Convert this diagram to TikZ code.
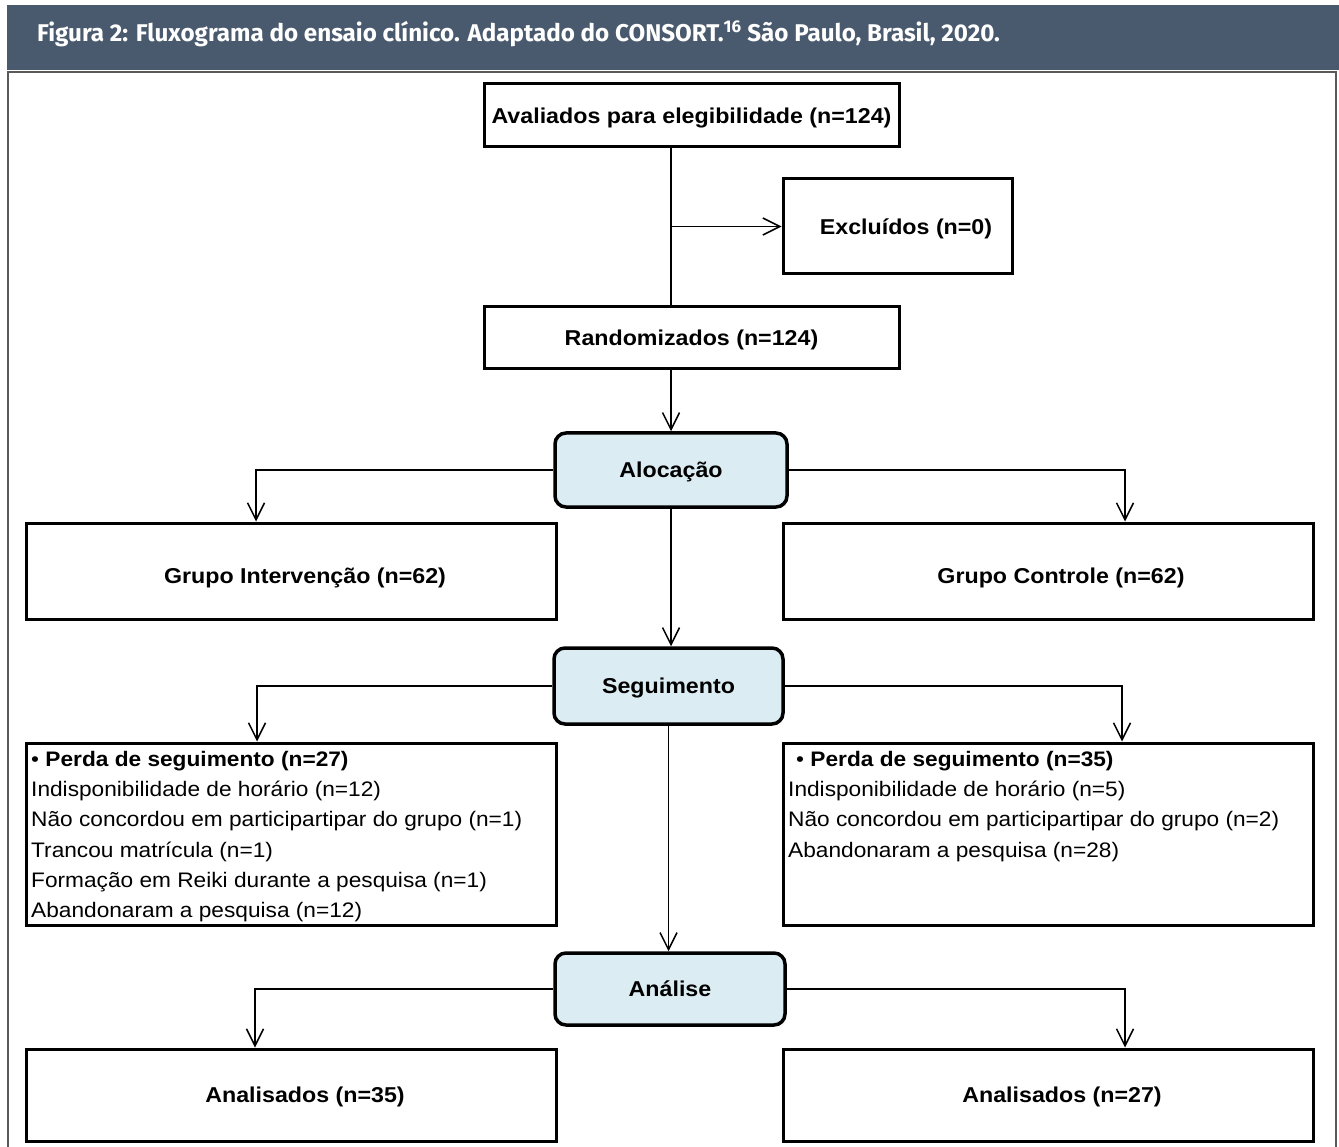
\documentclass[tikz,border=0pt]{standalone}
\usepackage{fontspec}
\setmainfont{Liberation Sans}[FakeStretch=1.08]
\newfontfamily\headfont{Fira Sans}
\usetikzlibrary{arrows.meta}
\definecolor{headbg}{RGB}{74,90,110}
\definecolor{stagefill}{RGB}{219,236,242}
\definecolor{framegray}{RGB}{90,90,90}
\begin{document}
\begin{tikzpicture}[x=1pt,y=-1pt,
  box/.style={draw, line width=3pt, inner sep=0pt, align=center,
    text height=15.5pt, text depth=0pt,
    font=\fontsize{21.5}{26}\selectfont\bfseries},
  stage/.style={box, rounded corners=11pt, fill=stagefill, line width=3.5pt},
  conn/.style={line width=1.5pt},
  arr/.style={conn, -{Straight Barb[length=17pt,width=17pt]}},
  lst/.style={anchor=north west, inner sep=0pt, align=left,
    font=\fontsize{21}{30.2}\selectfont}]
\useasboundingbox (0,0) rectangle (1339,1147);
% header band
\fill[headbg] (7,5) rectangle (1339,70);
\node[anchor=base west, text=white, inner sep=0pt,
  font=\headfont\bfseries\fontsize{24.2}{26}\selectfont] (title) at (37,42)
  {Figura 2: Fluxograma do ensaio clínico. Adaptado do CONSORT.\textsuperscript{16} São Paulo, Brasil, 2020.};
% frame
\draw[framegray, line width=2pt] (8,1147) -- (8,72) -- (1336,72) -- (1336,1147);
% boxes
\node[box, minimum width=415pt, minimum height=63pt] (aval) at (691.5,115.5) {Avaliados para elegibilidade (n=124)};
\node[box, minimum width=229pt, minimum height=95pt] (excl) at (897.5,226.5) {\hspace*{17pt}Excluídos (n=0)};
\node[box, minimum width=415pt, minimum height=62pt] (rand) at (691.5,338) {Randomizados (n=124)};
\node[stage, minimum width=232pt, minimum height=74pt] (aloc) at (671,470) {Alocação};
\node[box, minimum width=530pt, minimum height=96pt] (gi) at (291,571) {\hspace*{28pt}\raisebox{-5pt}{Grupo Intervenção (n=62)}};
\node[box, minimum width=530pt, minimum height=96pt] (gc) at (1048,571) {\hspace*{26pt}\raisebox{-5pt}{Grupo Controle (n=62)}};
\node[stage, minimum width=229pt, minimum height=76pt] (seg) at (668.5,686) {Seguimento};
\node[box, minimum width=530pt, minimum height=182pt] (pl) at (291,834) {};
\node[box, minimum width=530pt, minimum height=182pt] (pr) at (1048,834) {};
\node[stage, minimum width=230pt, minimum height=72pt] (anal) at (670,989) {Análise};
\node[box, minimum width=530pt, minimum height=92pt] (al) at (291,1095) {\hspace*{28pt}Analisados (n=35)};
\node[box, minimum width=530pt, minimum height=92pt] (ar) at (1048,1095) {\hspace*{28pt}Analisados (n=27)};
% list texts
\node[lst] (plt) at (31,751) {• \textbf{Perda de seguimento (n=27)}\\
  Indisponibilidade de horário (n=12)\\
  Não concordou em participartipar do grupo (n=1)\\
  Trancou matrícula (n=1)\\
  Formação em Reiki durante a pesquisa (n=1)\\
  Abandonaram a pesquisa (n=12)};
\node[lst] (prt) at (788,751) {\hspace*{8pt}• \textbf{Perda de seguimento (n=35)}\\
  Indisponibilidade de horário (n=5)\\
  Não concordou em participartipar do grupo (n=2)\\
  Abandonaram a pesquisa (n=28)};
% connectors
\draw[conn] (aval.south -| aloc.north) -- (rand.north -| aloc.north);
\draw[arr] (excl.west -| aloc.north) -- (excl.west);
\draw[arr] (rand.south -| aloc.north) -- (aloc.north);
\draw[arr] (aloc.west) -| ([xshift=-35pt]gi.north);
\draw[arr] (aloc.east) -| ([xshift=77pt]gc.north);
\draw[arr] (aloc.south) -- (aloc.south |- seg.north);
\draw[arr] (seg.west) -| ([xshift=-34pt]pl.north);
\draw[arr] (seg.east) -| ([xshift=74pt]pr.north);
\draw[arr] (seg.south) -- (seg.south |- anal.north);
\draw[arr] (anal.west) -| ([xshift=-36pt]al.north);
\draw[arr] (anal.east) -| ([xshift=77pt]ar.north);
\end{tikzpicture}
\end{document}
